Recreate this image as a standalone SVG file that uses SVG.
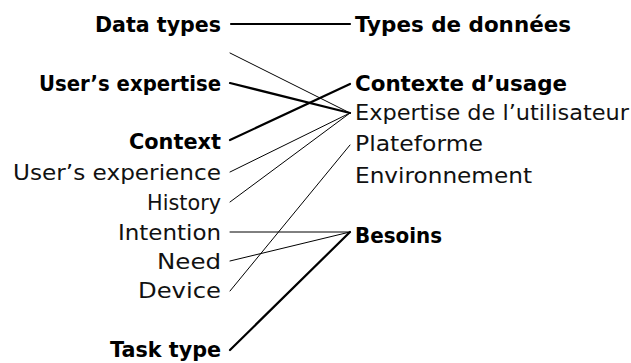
<svg xmlns="http://www.w3.org/2000/svg" width="631" height="363" viewBox="0 0 631 363">
<style>
text{font-family:"DejaVu Sans","Liberation Sans",sans-serif;font-size:22px;fill:#000;}
.b{font-weight:bold;}
.r{font-weight:normal;fill:#111;}
.thick{stroke:#000;stroke-width:2.2;fill:none;stroke-linecap:round;}
.thin{stroke:#000;stroke-width:1;fill:none;stroke-linecap:round;}
</style>
<rect width="631" height="363" fill="#fff"/>
<g id="connectors">
<line class="thick" x1="231" y1="24" x2="350" y2="24"/>
<line class="thin" x1="230" y1="53" x2="350" y2="113"/>
<line class="thick" x1="230" y1="83" x2="350" y2="113"/>
<line class="thick" x1="230" y1="140" x2="350" y2="84"/>
<line class="thin" x1="230" y1="172" x2="350" y2="113"/>
<line class="thin" x1="230" y1="202" x2="350" y2="113"/>
<line class="thin" x1="230" y1="291" x2="350" y2="145"/>
<line class="thin" x1="230" y1="232" x2="350" y2="232"/>
<line class="thin" x1="230" y1="261" x2="350" y2="232"/>
<line class="thick" x1="230" y1="350" x2="350" y2="232"/>
</g>
<g id="n-data-types"><text class="b" x="95" y="31.5" textLength="126" lengthAdjust="spacingAndGlyphs">Data types</text></g>
<g id="n-users-expertise"><text class="b" x="39" y="91" textLength="182" lengthAdjust="spacingAndGlyphs">User’s expertise</text></g>
<g id="n-context"><text class="b" x="129" y="149" textLength="92" lengthAdjust="spacingAndGlyphs">Context</text></g>
<g id="n-users-experience"><text class="r" x="13" y="180" textLength="208" lengthAdjust="spacingAndGlyphs">User’s experience</text></g>
<g id="n-history"><text class="r" x="147" y="209.5" textLength="74" lengthAdjust="spacingAndGlyphs">History</text></g>
<g id="n-intention"><text class="r" x="118" y="239.5" textLength="103" lengthAdjust="spacingAndGlyphs">Intention</text></g>
<g id="n-need"><text class="r" x="157" y="268.5" textLength="64" lengthAdjust="spacingAndGlyphs">Need</text></g>
<g id="n-device"><text class="r" x="138" y="298" textLength="83" lengthAdjust="spacingAndGlyphs">Device</text></g>
<g id="n-task-type"><text class="b" x="110" y="357" textLength="111" lengthAdjust="spacingAndGlyphs">Task type</text></g>
<g id="n-types-de-donnees"><text class="b" x="355" y="32" textLength="216" lengthAdjust="spacingAndGlyphs">Types de données</text></g>
<g id="n-contexte-dusage"><text class="b" x="355" y="91" textLength="212" lengthAdjust="spacingAndGlyphs">Contexte d’usage</text></g>
<g id="n-expertise"><text class="r" x="355" y="120" textLength="274" lengthAdjust="spacingAndGlyphs">Expertise de l’utilisateur</text></g>
<g id="n-plateforme"><text class="r" x="355" y="151" textLength="128" lengthAdjust="spacingAndGlyphs">Plateforme</text></g>
<g id="n-environnement"><text class="r" x="355" y="183" textLength="177" lengthAdjust="spacingAndGlyphs">Environnement</text></g>
<g id="n-besoins"><text class="b" x="355" y="243" textLength="87" lengthAdjust="spacingAndGlyphs">Besoins</text></g>
</svg>
